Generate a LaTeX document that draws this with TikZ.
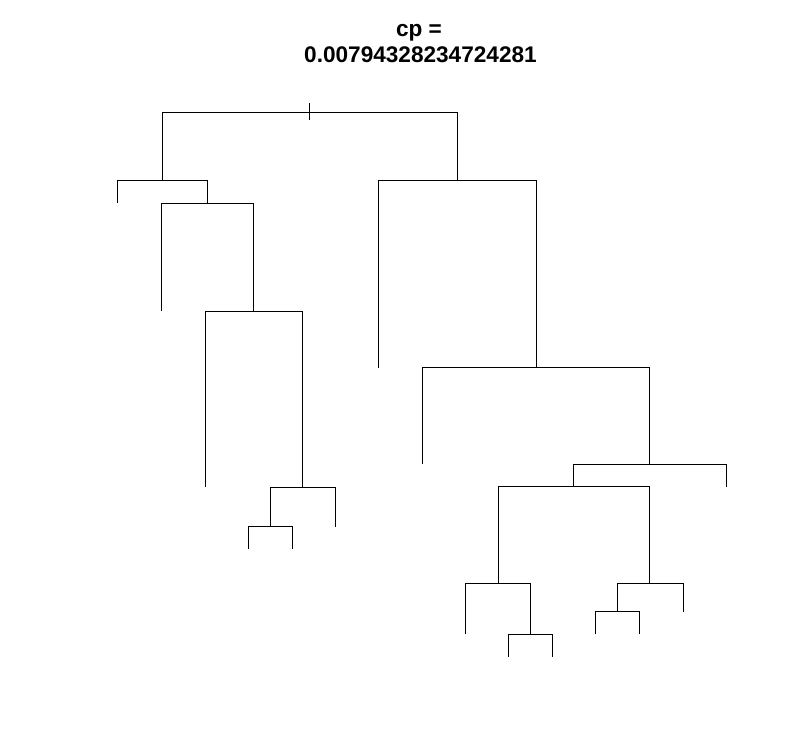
\documentclass[tikz,border=0pt]{standalone}
\usepackage{fontspec}
\setmainfont{Liberation Sans}
\begin{document}
\begin{tikzpicture}[x=1pt,y=-1pt,
  edge/.style={draw=black,line width=0.9pt},
  ttl/.style={font=\fontsize{22.6}{27}\selectfont\bfseries,inner sep=0pt,anchor=base}]
\useasboundingbox (0,0) rectangle (795,749);
\node[ttl] (t1) at (419,37) {cp =};
\node[ttl] (t2) at (420.5,63) {0.00794328234724281};
% tree nodes
\coordinate (r) at (309.5,112);
\coordinate (n2) at (162,180);
\coordinate (l4) at (117,203);
\coordinate (n5) at (207,203);
\coordinate (l10) at (161,311);
\coordinate (n11) at (253,311);
\coordinate (l22) at (205,487);
\coordinate (n23) at (302,487);
\coordinate (n46) at (270,526);
\coordinate (l47) at (335,527);
\coordinate (l92) at (248,549);
\coordinate (l93) at (292,549);
\coordinate (n3) at (457,180);
\coordinate (l6) at (378,368);
\coordinate (n7) at (536,367);
\coordinate (l14) at (422,464);
\coordinate (n15) at (649,464);
\coordinate (n30) at (573,486);
\coordinate (l31) at (726,487);
\coordinate (n60) at (498,583);
\coordinate (n61) at (649,583);
\coordinate (l120) at (465,634);
\coordinate (n121) at (530,634);
\coordinate (l242) at (508,657);
\coordinate (l243) at (552,657);
\coordinate (n122) at (617,611);
\coordinate (l123) at (683,612);
\coordinate (l244) at (595,634);
\coordinate (l245) at (639,634);
\coordinate (tk1) at (309.5,103);
\coordinate (tk2) at (309.5,120);
\draw[edge] (tk1) -- (tk2);
\foreach \p/\c in {r/n2,r/n3,n2/l4,n2/n5,n5/l10,n5/n11,n11/l22,n11/n23,n23/n46,n23/l47,n46/l92,n46/l93,
  n3/l6,n3/n7,n7/l14,n7/n15,n15/n30,n15/l31,n30/n60,n30/n61,n60/l120,n60/n121,n121/l242,n121/l243,
  n61/n122,n61/l123,n122/l244,n122/l245}
  \draw[edge] (\p) -| (\c);
\end{tikzpicture}
\end{document}
